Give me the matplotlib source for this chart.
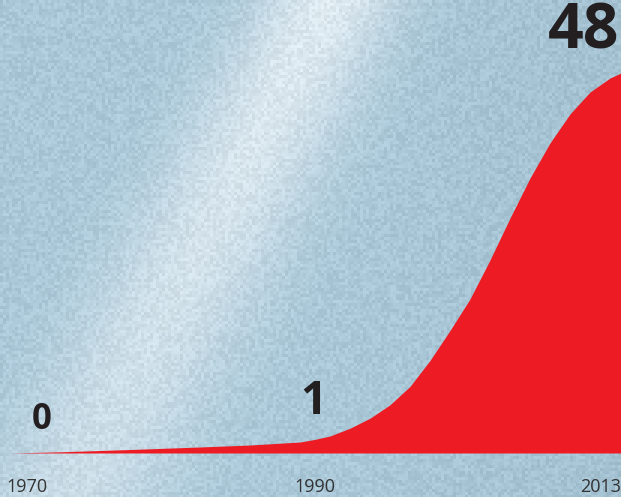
import numpy as np
import matplotlib
matplotlib.use("Agg")
import matplotlib.pyplot as plt

# ---- data ----
years = [1970.0, 1973.52, 1978.45, 1983.37, 1986.89, 1990.41, 1991.46, 1992.52,
         1993.93, 1995.34, 1996.74, 1998.15, 1999.56, 2000.97, 2002.37, 2003.78,
         2005.19, 2006.60, 2008.00, 2009.41, 2010.82, 2012.23, 2013.0]
values = [0.0, 0.15, 0.44, 0.76, 1.01, 1.39, 1.72, 2.15,
          3.13, 4.40, 6.09, 8.41, 11.70, 15.49, 19.45, 24.38,
          29.68, 34.74, 39.16, 42.82, 45.60, 47.37, 48.0]
tick_labels = ["1970", "1990", "2013"]
value_labels = ["0", "1", "48"]

# ---- figure ----
W, H = 621, 497
fig = plt.figure(figsize=(W / 100, H / 100), dpi=100)
ax = fig.add_axes([0, 0, 1, 1])

# axis scaling: 1970 at px 10, 2013 at px 621; baseline 44 px from bottom, 48 at 424 px
px_per_year = 611 / 43
x0 = 1970 - 10 / px_per_year
px_per_unit = 380 / 48
y0 = -44 / px_per_unit
y1 = (H - 44) / px_per_unit
ax.set_xlim(x0, 2013)
ax.set_ylim(y0, y1)
ax.axis("off")

# ---- background: icy blue with a light diagonal streak ----
yy, xx = np.mgrid[0:H, 0:W].astype(float)
base = np.array([170, 200, 216], float) / 255.0
light = np.array([232, 240, 245], float) / 255.0
center = 330 - 0.52 * yy
d = (xx - center) / (70 + 0.05 * yy)
strength = np.exp(-d ** 2) * (0.85 - 0.35 * yy / H)
dark = np.clip((xx - 350) / 400, 0, 1) * 0.04
bx = (xx // 3)
by = (yy // 3)
h = np.sin(bx * 12.9898 + by * 78.233) * 43758.5453
tex = (h - np.floor(h)) - 0.5
img = base[None, None, :] * (1 - strength[..., None]) + light[None, None, :] * strength[..., None]
img = img - dark[..., None] + tex[..., None] * 0.08
img = np.clip(img, 0, 1)
ax.imshow(img, extent=[x0, 2013, y0, y1], aspect="auto", zorder=0, interpolation="bilinear")

# ---- red area ----
ax.fill_between(years, 0, values, color="#ed1c24", linewidth=0, zorder=2)

# ---- labels ----
txt_color = "#231f20"
font = ["Open Sans", "DejaVu Sans"]
tick_pos = [(6 / W, "left"), (315 / W, "center"), (1.0, "right")]
for lab, (fx, ha) in zip(tick_labels, tick_pos):
    ax.text(fx, 10 / H, lab, transform=ax.transAxes, ha=ha, va="center",
            fontsize=13, color="#333333", family=font, zorder=3)

val_pos = [(42, 420, 25), (313, 402, 33), (584, 32, 45)]
for lab, (px, py, fs) in zip(value_labels, val_pos):
    ax.text(px / W, 1 - py / H, lab, transform=ax.transAxes, ha="center", va="center",
            fontsize=fs, fontweight="bold", color=txt_color, family=font, zorder=3)

fig.savefig("out.png", dpi=100)
